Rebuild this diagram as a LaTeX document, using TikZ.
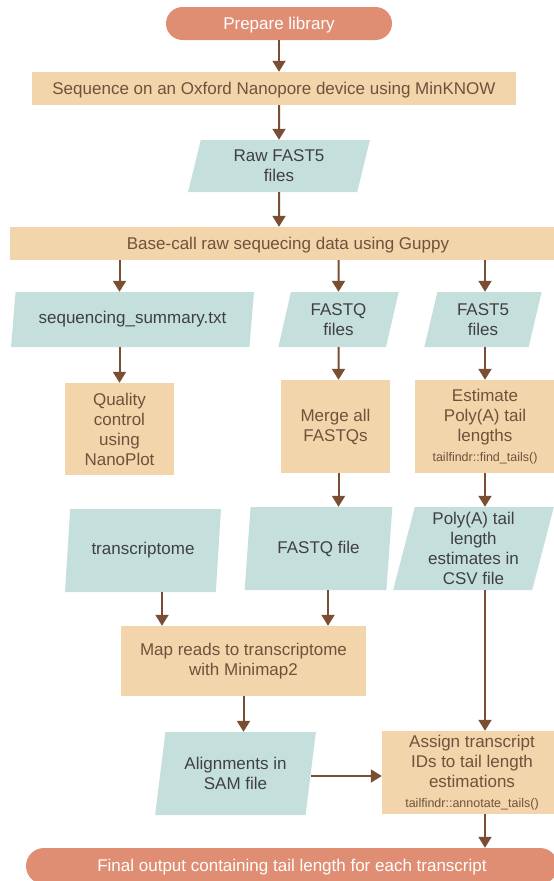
\documentclass[tikz,border=0pt]{standalone}
\usepackage{fontspec}
\setmainfont{Liberation Sans}
\usepackage{xcolor}
\usetikzlibrary{shapes.geometric, arrows.meta, positioning, calc}

\definecolor{pillfill}{RGB}{224,142,115}
\definecolor{procfill}{RGB}{242,213,170}
\definecolor{datafill}{RGB}{197,224,220}
\definecolor{arrowbrown}{RGB}{122,78,50}
\definecolor{proctext}{RGB}{112,82,60}
\definecolor{datatext}{RGB}{64,64,64}

\newcommand{\toolcall}[1]{{\fontsize{12.5}{15}\selectfont #1}}

\begin{document}
\begin{tikzpicture}[
    x=1pt, y=-1pt,
    every node/.style={font=\fontsize{17}{20}\selectfont, inner sep=0pt, align=center},
    terminal/.style={rectangle, fill=pillfill, text=white, rounded corners=16.5pt},
    block/.style={rectangle, fill=procfill, text=proctext},
    data/.style={trapezium, trapezium left angle=77, trapezium right angle=103, trapezium stretches=true, fill=datafill, text=datatext},
    arrow/.style={-{Triangle[width=13pt, length=11pt]}, line width=2pt, draw=arrowbrown}
]
\useasboundingbox (0,0) rectangle (554,881);
\clip (0,0) rectangle (554,881);

% Library and sequencing
\node[terminal, minimum width=226pt, minimum height=33pt, text depth=0pt] (prep) at (279,23.5) {Prepare library};
\node[block, minimum width=484pt, minimum height=33pt, text depth=0pt] (seq) at (274,88.5) {Sequence on an Oxford Nanopore device using MinKNOW};
\node[data, minimum width=182pt, minimum height=52pt] (raw) at (279,166) {Raw FAST5\\files};
\node[block, minimum width=556pt, minimum height=33pt, text depth=0pt] (base) at (288,243.5) {Base-call raw sequecing data using Guppy};

% Outputs of base-calling
\node[data, minimum width=243pt, minimum height=55pt] (seqsum) at (132.5,319.5) {sequencing\_summary.txt};
\node[data, minimum width=121pt, minimum height=55pt] (fastqs) at (338.5,319.5) {FASTQ\\files};
\node[data, minimum width=118pt, minimum height=55pt] (fast5s) at (483,319.5) {FAST5\\files};

% Processing steps
\node[block, minimum width=109pt, minimum height=92pt] (qc) at (119.5,429) {Quality\\control\\using\\NanoPlot};
\node[block, minimum width=109pt, minimum height=93pt] (merge) at (335.5,426.5) {Merge all\\FASTQs};
\node[block, minimum width=140pt, minimum height=93pt] (estimate) at (485,426.5) {Estimate\\Poly(A) tail\\lengths\\\toolcall{tailfindr::find\_tails()}};

% Inputs for mapping
\node[data, minimum width=156pt, minimum height=83pt] (trans) at (143,550.5) {transcriptome};
\node[data, minimum width=149pt, minimum height=83pt] (fastq) at (318.5,548.5) {FASTQ file};
\node[data, minimum width=161pt, minimum height=83pt] (polya) at (473.5,548.5) {Poly(A) tail\\length\\estimates in\\CSV file};

% Mapping and annotation
\node[block, minimum width=245pt, minimum height=70pt] (map) at (243.5,661) {Map reads to transcriptome\\with Minimap2};
\node[data, minimum width=161pt, minimum height=83pt] (align) at (235.5,773.5) {Alignments in\\SAM file};
\node[block, minimum width=180pt, minimum height=83pt] (assign) at (472,772.5) {Assign transcript\\IDs to tail length\\estimations\\\toolcall{tailfindr::annotate\_tails()}};
\node[terminal, minimum width=532pt, minimum height=36pt, rounded corners=18pt, text depth=2pt] (final) at (292,866) {Final output containing tail length for each transcript};

% Arrows - main trunk
\draw[arrow] (prep) -- (prep |- seq.north);
\draw[arrow] (seq.south -| raw) -- (raw.north);
\draw[arrow] (raw) -- (raw |- base.north);

% Arrows - three branches
\draw[arrow] (base.south -| qc) -- (seqsum.north -| qc);
\draw[arrow] (seqsum.south -| qc) -- (qc);
\draw[arrow] (base.south -| fastqs) -- (fastqs.north);
\draw[arrow] (fastqs) -- (merge.north -| fastqs);
\draw[arrow] (base.south -| estimate) -- (fast5s.north -| estimate);
\draw[arrow] (fast5s.south -| estimate) -- (estimate);

% Arrows - mapping path
\draw[arrow] (merge.south -| fastqs) -- (fastq.north -| fastqs);
\draw[arrow] ([xshift=19pt]trans.south) -- ([xshift=19pt]trans.south |- map.north);
\draw[arrow] ([xshift=9.5pt]fastq.south) -- ([xshift=9.5pt]fastq.south |- map.north);
\draw[arrow] (map) -- (map |- align.north);
\draw[arrow] ([yshift=-2.5pt]align.east) -- ([yshift=-2.5pt]align.east -| assign.west);

% Arrows - tail length path
\draw[arrow] (estimate) -- (polya.north -| estimate);
\draw[arrow] (polya.south -| estimate) -- (assign.north -| estimate);
\draw[arrow] (assign.south -| estimate) -- (final.north -| estimate);

\end{tikzpicture}
\end{document}
